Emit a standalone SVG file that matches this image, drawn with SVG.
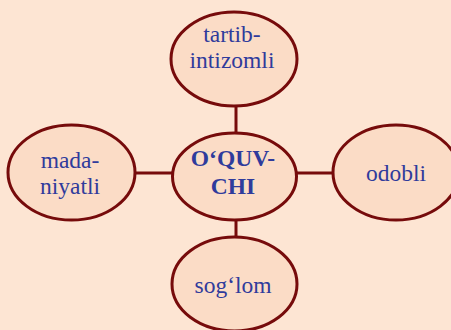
<svg xmlns="http://www.w3.org/2000/svg" width="451" height="330" viewBox="0 0 451 330">
  <style>
    .node ellipse { fill: #fbdcc6; stroke: #760b0b; stroke-width: 3; }
    .node text { font-family: "Liberation Serif", "Times New Roman", serif; font-size: 23.5px; fill: #2f3b9c; text-anchor: middle; }
    .node.core text { font-weight: bold; }
    #connectors line { stroke: #760b0b; stroke-width: 3; }
  </style>
  <rect width="451" height="330" fill="#fde5d3"/>

  <g id="connectors">
    <line x1="236" y1="106" x2="236" y2="133"/>
    <line x1="236" y1="220" x2="236" y2="237"/>
    <line x1="135" y1="173" x2="172" y2="173"/>
    <line x1="297" y1="173" x2="333" y2="173"/>
  </g>

  <g id="node-tartib" class="node">
    <ellipse cx="234" cy="59" rx="63" ry="47"/>
    <text x="232" y="42">tartib-</text>
    <text x="232" y="68">intizomli</text>
  </g>

  <g id="node-oquvchi" class="node core">
    <ellipse cx="234.5" cy="176.5" rx="62" ry="43.5"/>
    <text x="233" y="166">O‘QUV-</text>
    <text x="233" y="194">CHI</text>
  </g>

  <g id="node-madaniyatli" class="node">
    <ellipse cx="71.5" cy="172.5" rx="63.5" ry="47.5"/>
    <text x="70" y="168">mada-</text>
    <text x="70" y="194">niyatli</text>
  </g>

  <g id="node-odobli" class="node">
    <ellipse cx="396" cy="172.5" rx="63" ry="47.5"/>
    <text x="396" y="181">odobli</text>
  </g>

  <g id="node-soglom" class="node">
    <ellipse cx="234.5" cy="284" rx="62.5" ry="47"/>
    <text x="233" y="293">sog‘lom</text>
  </g>
</svg>
